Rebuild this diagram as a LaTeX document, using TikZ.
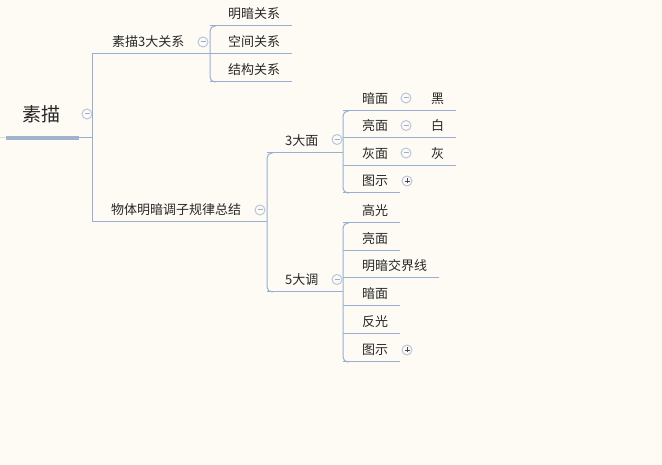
\documentclass[tikz,border=0pt]{standalone}
\usepackage{fontspec}
\newfontfamily\cjk{Noto Sans CJK SC}
\usepackage{xcolor}
\usepackage{tikz}

\definecolor{hgrund}{RGB}{253,251,244}
\definecolor{astfarbe}{RGB}{152,175,210}
\definecolor{balken}{RGB}{160,180,205}
\definecolor{knopfrand}{RGB}{185,198,222}
\definecolor{schrift}{RGB}{40,40,40}

\begin{document}
\begin{tikzpicture}[x=1pt, y=-1pt, font=\cjk\fontsize{13pt}{15pt}\selectfont,
    ast/.style={draw=astfarbe, line width=1pt},
    thema/.style={anchor=west, inner sep=0pt, text=schrift},
    knopf/.style={circle, draw=knopfrand, fill=hgrund, minimum size=10pt, inner sep=0pt, line width=1pt}]

    % --- 1. HINTERGRUND ---
    \fill[hgrund] (0,0) rectangle (662,465);

    % --- 2. MAKROS ---
    % #1 Name, #2 x links, #3 y Linie, #4 x rechts, #5 x Text, #6 Text
    \newcommand{\thema}[6]{
        \coordinate (#1-l) at (#2,#3);
        \coordinate (#1-r) at (#4,#3);
        \node[thema] (#1) at (#5,#3-12.5) {#6};
        \draw[ast] (#1-l) -- (#1-r);
    }
    \newcommand{\minusknopf}[3]{
        \node[knopf] (#1) at (#2,#3) {};
        \draw[astfarbe, line width=1pt] ([xshift=-2.5pt]#1.center) -- ([xshift=2.5pt]#1.center);
    }
    \newcommand{\plusknopf}[3]{
        \node[knopf] (#1) at (#2,#3) {};
        \draw[schrift!85, line width=0.9pt] ([xshift=-2.5pt]#1.center) -- ([xshift=2.5pt]#1.center);
        \draw[schrift!85, line width=0.9pt] ([yshift=-2.5pt]#1.center) -- ([yshift=2.5pt]#1.center);
    }

    % --- 3. WURZEL ---
    \node[font=\cjk\fontsize{19pt}{22pt}\selectfont, text=schrift] (wurzel) at (42,114) {素描};
    \coordinate (wurzel-a) at (6,138);
    \coordinate (wurzel-b) at (79,138);
    \coordinate (wurzel-r) at (92,138);
    \fill[balken!45] (0,137) rectangle (wurzel-a);
    \draw[balken, line width=4.5pt] (wurzel-a) -- (wurzel-b);
    \draw[ast] (wurzel-b) -- (wurzel-r);
    \minusknopf{k0}{87}{114}

    % --- 4. HAUPTAESTE ---
    \thema{b1}{92}{54}{210}{112}{素描3大关系}
    \thema{b2}{92}{222}{267}{111}{物体明暗调子规律总结}
    \draw[ast] (b1-l) -- (b2-l);
    \minusknopf{k1}{203}{42}
    \minusknopf{k2}{260}{210}

    % --- 5. DREI BEZIEHUNGEN ---
    \thema{r1}{210}{26}{292}{228}{明暗关系}
    \thema{r2}{210}{54}{292}{228}{空间关系}
    \thema{r3}{210}{82}{292}{228}{结构关系}
    \draw[ast, rounded corners=5pt] ([xshift=6pt]r1-l) -- (r1-l) -- (r3-l) -- ([xshift=6pt]r3-l);

    % --- 6. 3 FLAECHEN / 5 TOENE ---
    \thema{f}{267}{153}{343}{285}{3大面}
    \thema{t}{267}{292}{343}{285}{5大调}
    \draw[ast, rounded corners=5pt] ([xshift=6pt]f-l) -- (f-l) -- (t-l) -- ([xshift=6pt]t-l);
    \minusknopf{kf}{337}{139.5}
    \minusknopf{kt}{337}{279.5}

    % 3大面: Flaechen mit Farbe
    \thema{f1}{343}{111}{413}{362}{暗面}
    \thema{f2}{343}{138}{413}{362}{亮面}
    \thema{f3}{343}{166}{413}{362}{灰面}
    \thema{f4}{343}{193}{400}{362}{图示}
    \draw[ast, rounded corners=5pt] ([xshift=6pt]f1-l) -- (f1-l) -- (f4-l) -- ([xshift=6pt]f4-l);
    \thema{f1a}{413}{111}{456}{431}{黑}
    \thema{f2a}{413}{138}{456}{431}{白}
    \thema{f3a}{413}{166}{456}{431}{灰}
    \minusknopf{kf1}{406}{98}
    \minusknopf{kf2}{406}{125.5}
    \minusknopf{kf3}{406}{153}
    \plusknopf{kf4}{407}{181}

    % 5大调: Tonwerte
    \thema{t1}{343}{223}{400}{362}{高光}
    \thema{t2}{343}{251}{400}{362}{亮面}
    \thema{t3}{343}{278}{439}{362}{明暗交界线}
    \thema{t4}{343}{306}{400}{362}{暗面}
    \thema{t5}{343}{334}{400}{362}{反光}
    \thema{t6}{343}{362}{400}{362}{图示}
    \draw[ast, rounded corners=5pt] ([xshift=6pt]t1-l) -- (t1-l) -- (t6-l) -- ([xshift=6pt]t6-l);
    \plusknopf{kt6}{407}{350}

\end{tikzpicture}
\end{document}
